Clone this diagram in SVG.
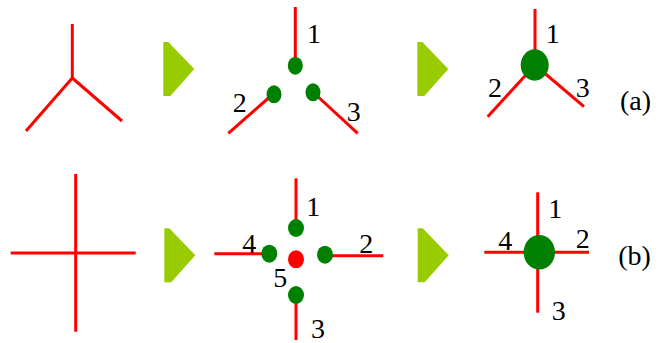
<svg xmlns="http://www.w3.org/2000/svg" width="662" height="343" viewBox="0 0 662 343">
<style>
.ln{stroke:#ff0000;stroke-width:3;fill:none}
.dot{fill:#008000}
.red{fill:#ff0000}
.tri{fill:#99cc00}
</style>
<defs>
<polygon id="arrowTri" class="tri" points="0,0 5,0 31,27 7,54 0,54"/>
</defs>
<rect width="662" height="343" fill="#fff"/>
<g id="connectors">
<line class="ln" x1="72.3" y1="24" x2="72.3" y2="78"/>
<line class="ln" x1="72.3" y1="78" x2="26" y2="131"/>
<line class="ln" x1="72.3" y1="78" x2="122" y2="121"/>
<line class="ln" x1="295.3" y1="7" x2="295.3" y2="60"/>
<line class="ln" x1="228.3" y1="133.3" x2="272" y2="95"/>
<line class="ln" x1="315" y1="94" x2="357.7" y2="133.3"/>
<line class="ln" x1="535" y1="9" x2="535" y2="60"/>
<line class="ln" x1="535" y1="65" x2="487.7" y2="116.7"/>
<line class="ln" x1="535" y1="65" x2="584" y2="106.7"/>
<line class="ln" x1="75.7" y1="174" x2="75.7" y2="331.7"/>
<line class="ln" x1="10.7" y1="253" x2="135.7" y2="253"/>
<line class="ln" x1="296" y1="178.3" x2="296" y2="222"/>
<line class="ln" x1="214.3" y1="253.7" x2="266" y2="253.7"/>
<line class="ln" x1="328" y1="255.7" x2="383.3" y2="255.7"/>
<line class="ln" x1="296" y1="300" x2="296" y2="340"/>
<line class="ln" x1="537.7" y1="192.3" x2="537.7" y2="312.7"/>
<line class="ln" x1="484.3" y1="252.3" x2="589" y2="252.3"/>
</g>
<g id="arrow-a1"><use href="#arrowTri" x="163.3" y="42"/></g>
<g id="arrow-a2"><use href="#arrowTri" x="417.3" y="42"/></g>
<g id="arrow-b1"><use href="#arrowTri" x="164.3" y="228.3"/></g>
<g id="arrow-b2"><use href="#arrowTri" x="417.7" y="228.3"/></g>
<g id="split-a" font-family="Liberation Serif, serif" font-size="28" fill="#000">
<ellipse class="dot" cx="295.3" cy="65.7" rx="7.5" ry="9"/>
<ellipse class="dot" cx="274" cy="94.3" rx="7.5" ry="9"/>
<ellipse class="dot" cx="313" cy="92.3" rx="7.5" ry="9"/>
<text x="307" y="43.3">1</text>
<text x="232.7" y="111.7">2</text>
<text x="346.7" y="120.7">3</text>
</g>
<g id="merged-a" font-family="Liberation Serif, serif" font-size="28" fill="#000">
<ellipse class="dot" cx="534.7" cy="65" rx="14" ry="15.7"/>
<text x="545.7" y="43.3">1</text>
<text x="488" y="97.3">2</text>
<text x="575.7" y="97.3">3</text>
<text x="620" y="110">(a)</text>
</g>
<g id="split-b" font-family="Liberation Serif, serif" font-size="28" fill="#000">
<ellipse class="dot" cx="296" cy="228" rx="8" ry="9"/>
<ellipse class="dot" cx="269.3" cy="253.7" rx="8" ry="9"/>
<ellipse class="dot" cx="325" cy="254.7" rx="8" ry="9"/>
<ellipse class="red" cx="296" cy="259.3" rx="8" ry="9"/>
<ellipse class="dot" cx="296" cy="295" rx="8" ry="9"/>
<text x="306.3" y="216">1</text>
<text x="242.3" y="253.3">4</text>
<text x="359.3" y="253.3">2</text>
<text x="273.3" y="287.3">5</text>
<text x="311" y="338.3">3</text>
</g>
<g id="merged-b" font-family="Liberation Serif, serif" font-size="28" fill="#000">
<ellipse class="dot" cx="539.3" cy="252.3" rx="15.7" ry="17.3"/>
<text x="548.3" y="218.3">1</text>
<text x="498.3" y="250">4</text>
<text x="575.7" y="248.3">2</text>
<text x="551.7" y="320">3</text>
<text x="618.3" y="265">(b)</text>
</g>
</svg>
